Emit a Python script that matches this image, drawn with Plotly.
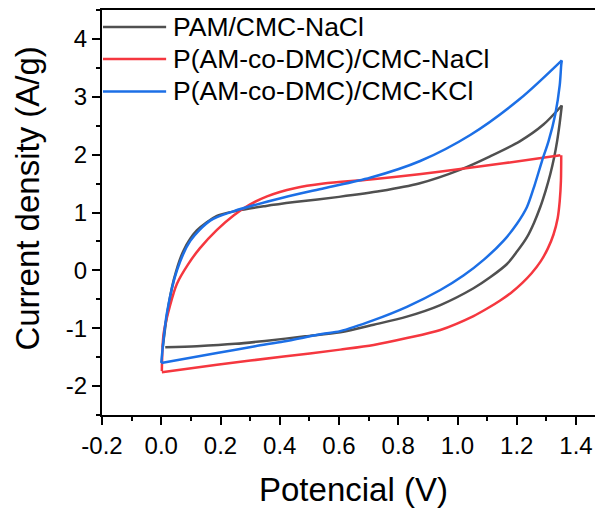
import plotly.graph_objects as go

# ---- data ----
series_names = ["PAM/CMC-NaCl", "P(AM-co-DMC)/CMC-NaCl", "P(AM-co-DMC)/CMC-KCl"]
series_colors = ["#505050", "#f5373f", "#1c6fe6"]

# PAM/CMC-NaCl
pam_fwd_v = [0.005, 0.02, 0.042, 0.075, 0.12, 0.188, 0.255, 0.35, 0.45, 0.6, 0.74, 0.87, 1.01, 1.11, 1.21, 1.29, 1.352]
pam_fwd_i = [-1.33, -0.75, -0.17, 0.34, 0.69, 0.94, 1.03, 1.11, 1.18, 1.27, 1.37, 1.50, 1.74, 1.97, 2.23, 2.52, 2.85]
pam_rev_v = [1.352, 1.345, 1.336, 1.326, 1.313, 1.297, 1.279, 1.258, 1.234, 1.2, 1.167, 1.11, 1.054, 0.942, 0.829, 0.717, 0.604, 0.486, 0.35, 0.25, 0.12, 0.0135]
pam_rev_i = [2.85, 2.55, 2.23, 1.95, 1.66, 1.37, 1.09, 0.82, 0.57, 0.32, 0.11, -0.12, -0.31, -0.60, -0.80, -0.94, -1.07, -1.14, -1.22, -1.27, -1.31, -1.33]

# P(AM-co-DMC)/CMC-NaCl
dmc_na_fwd_v = [0.002, 0.008, 0.03, 0.053, 0.09, 0.13, 0.188, 0.244, 0.30, 0.357, 0.45, 0.548, 0.705, 0.87, 1.009, 1.155, 1.347]
dmc_na_fwd_i = [-1.74, -1.09, -0.60, -0.23, 0.10, 0.38, 0.70, 0.95, 1.14, 1.28, 1.42, 1.50, 1.57, 1.66, 1.75, 1.85, 1.99]
dmc_na_rev_v = [1.35, 1.349, 1.345, 1.338, 1.324, 1.305, 1.28, 1.25, 1.218, 1.18, 1.144, 1.1, 1.054, 0.942, 0.829, 0.717, 0.604, 0.413, 0.188, 0.002]
dmc_na_rev_i = [1.99, 1.55, 1.20, 0.90, 0.62, 0.38, 0.15, -0.05, -0.22, -0.39, -0.52, -0.66, -0.79, -1.03, -1.17, -1.29, -1.37, -1.49, -1.63, -1.76]

# P(AM-co-DMC)/CMC-KCl
dmc_k_fwd_v = [0.0, 0.019, 0.053, 0.098, 0.165, 0.243, 0.413, 0.55, 0.705, 0.874, 1.043, 1.212, 1.352]
dmc_k_fwd_i = [-1.60, -0.74, 0.0, 0.51, 0.86, 1.02, 1.26, 1.42, 1.60, 1.89, 2.34, 2.97, 3.63]
dmc_k_rev_v = [1.352, 1.35, 1.345, 1.33, 1.307, 1.285, 1.26, 1.234, 1.2, 1.155, 1.09, 1.02, 0.942, 0.829, 0.717, 0.604, 0.542, 0.413, 0.317, 0.188, 0.0]
dmc_k_rev_i = [3.63, 3.55, 3.20, 2.70, 2.23, 1.89, 1.47, 1.09, 0.80, 0.51, 0.19, -0.09, -0.34, -0.63, -0.86, -1.05, -1.10, -1.23, -1.31, -1.43, -1.60]

x_tick_vals = [-0.2, 0.0, 0.2, 0.4, 0.6, 0.8, 1.0, 1.2, 1.4]
x_tick_text = ["-0.2", "0.0", "0.2", "0.4", "0.6", "0.8", "1.0", "1.2", "1.4"]
y_tick_vals = [-2, -1, 0, 1, 2, 3, 4]
y_tick_text = ["-2", "-1", "0", "1", "2", "3", "4"]

x_title = "Potencial (V)"
y_title = "Current density (A/g)"

FONT = "Liberation Sans, Arial, sans-serif"

branches = [
    (pam_fwd_v, pam_fwd_i, pam_rev_v, pam_rev_i),
    (dmc_na_fwd_v, dmc_na_fwd_i, dmc_na_rev_v, dmc_na_rev_i),
    (dmc_k_fwd_v, dmc_k_fwd_i, dmc_k_rev_v, dmc_k_rev_i),
]

fig = go.Figure()
for name, color, (fv, fi, rv, ri) in zip(series_names, series_colors, branches):
    for vv, ii in ((fv, fi), (rv, ri)):
        fig.add_trace(go.Scatter(
            x=vv, y=ii, mode="lines", name=name, legendgroup=name,
            showlegend=False,
            line=dict(color=color, width=2.5, shape="spline", smoothing=0.8),
        ))

# legend drawn with long line samples, as in the reference
leg_rows_y = [0.958, 0.879, 0.799]
for name, color, yy in zip(series_names, series_colors, leg_rows_y):
    fig.add_shape(type="line", xref="paper", yref="paper",
                  x0=0.002, x1=0.128, y0=yy, y1=yy,
                  line=dict(color=color, width=2.5))
    fig.add_annotation(text=name, xref="paper", yref="paper",
                       x=0.138, y=yy, xanchor="left", yanchor="middle",
                       showarrow=False, font=dict(family=FONT, size=26.5, color="black"))

# axis titles
fig.add_annotation(text=x_title, xref="paper", yref="paper", x=0.501, y=-0.184,
                   xanchor="center", yanchor="middle", showarrow=False,
                   font=dict(family=FONT, size=33, color="black"))
fig.add_annotation(text=y_title, xref="paper", yref="paper", x=-0.148, y=0.534,
                   xanchor="center", yanchor="middle", showarrow=False, textangle=-90,
                   font=dict(family=FONT, size=33, color="black"))

axis_common = dict(
    showline=True, linecolor="black", linewidth=2,
    ticks="outside", ticklen=8, tickwidth=2, tickcolor="black",
    showgrid=False, zeroline=False,
    tickfont=dict(family=FONT, size=24, color="black"),
)

fig.update_xaxes(range=[-0.2, 1.491], tickvals=x_tick_vals, ticktext=x_tick_text,
                 mirror=True,
                 minor=dict(ticks="outside", ticklen=4, tickwidth=2, tickcolor="black", dtick=0.1, tick0=0, showgrid=False),
                 **axis_common)
fig.update_yaxes(range=[-2.5, 4.5], tickvals=y_tick_vals, ticktext=y_tick_text,
                 mirror=False,
                 minor=dict(ticks="outside", ticklen=4, tickwidth=2, tickcolor="black", dtick=0.5, tick0=0, showgrid=False),
                 **axis_common)

# the page body adds an 8px offset, so the figure is sized to fit the window
fig.update_layout(
    width=595, height=503,
    margin=dict(l=94, r=0, t=0, b=96, pad=0),
    paper_bgcolor="white", plot_bgcolor="white",
    showlegend=False,
    font=dict(family=FONT, color="black"),
)

fig.write_html("out.html")
